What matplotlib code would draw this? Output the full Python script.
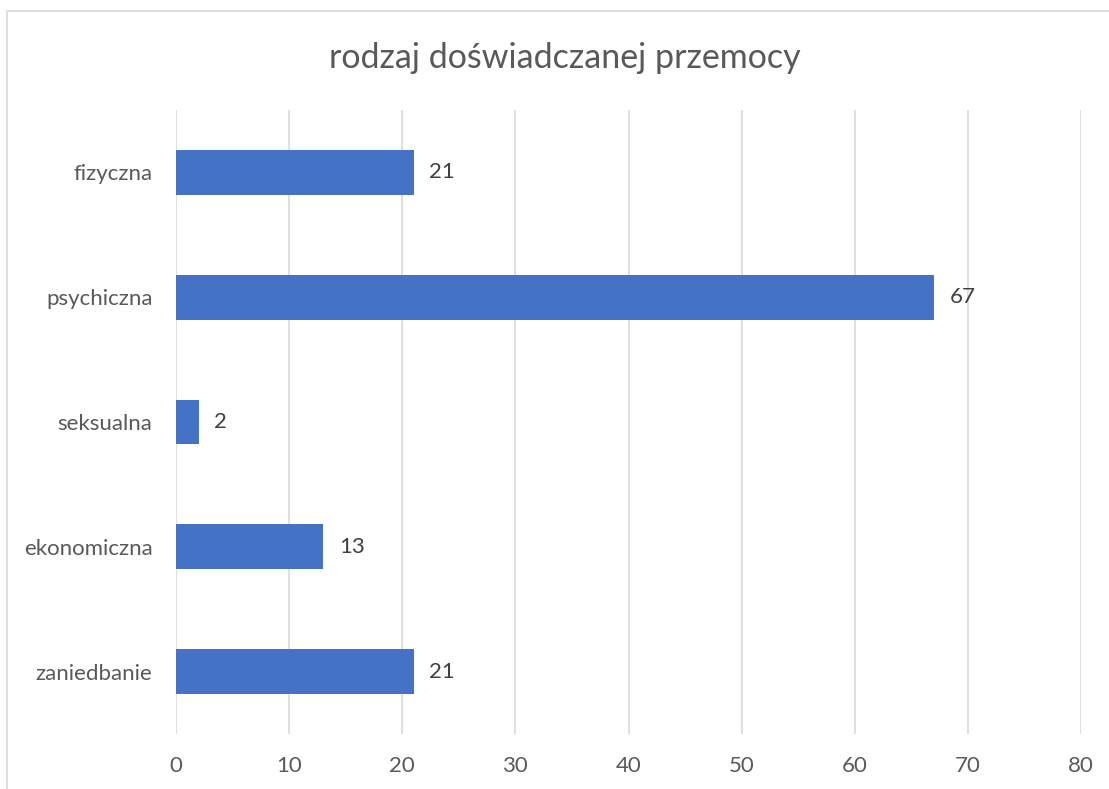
import matplotlib.pyplot as plt
import numpy as np

# data
categories = ['fizyczna', 'psychiczna', 'seksualna', 'ekonomiczna', 'zaniedbanie']
values = [21, 67, 2, 13, 21]
xticks = [0, 10, 20, 30, 40, 50, 60, 70, 80]

plt.rcParams['font.family'] = ['Lato', 'DejaVu Sans']

fig = plt.figure(figsize=(11.09, 7.89), dpi=100)
ax = fig.add_axes([176 / 1109, 1 - 734 / 789, 905 / 1109, 624 / 789])

# chart border (Excel style), runs off the right and bottom edge
fig.patches.append(plt.Rectangle((7 / 1109, -0.05), 1.1, 1 - 11 / 789 + 0.05,
                                 transform=fig.transFigure, fill=False,
                                 edgecolor='#D9D9D9', linewidth=1.2))

y = np.arange(len(categories))
ax.barh(y, values, height=0.36, color='#4472C4', zorder=3)
for yi, v in zip(y, values):
    ax.text(v + 1.4, yi, str(v), va='center', ha='left', fontsize=16, color='#404040')

ax.set_ylim(len(categories) - 0.5, -0.5)
ax.set_xlim(0, 80)
ax.set_yticks(y)
ax.set_yticklabels(categories, fontsize=16, color='#595959')
ax.set_xticks(xticks)
ax.set_xticklabels([str(t) for t in xticks], fontsize=16, color='#595959')
ax.tick_params(length=0)
ax.tick_params(axis='y', pad=17)
ax.tick_params(axis='x', pad=16)
ax.grid(axis='x', color='#D9D9D9', linewidth=1.2, zorder=0)
for s in ax.spines.values():
    s.set_visible(False)

fig.text(565 / 1109, 1 - 58 / 789, 'rodzaj doświadczanej przemocy', ha='center', va='center',
         fontsize=24.5, color='#595959')

fig.savefig('out.png', dpi=100)
